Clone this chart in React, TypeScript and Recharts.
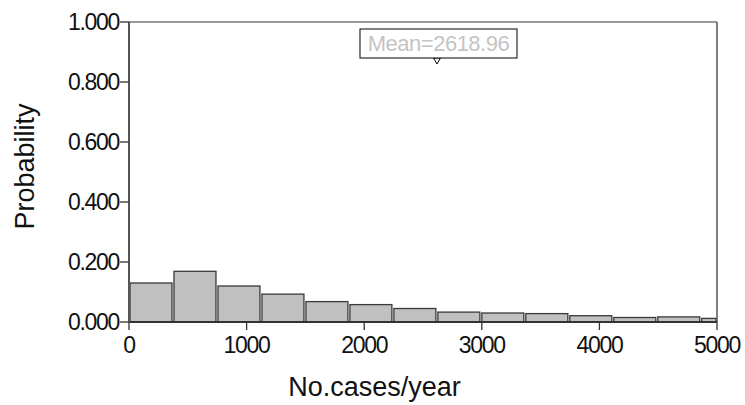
import { ComposedChart, XAxis, YAxis, Line, ReferenceArea, ReferenceLine, ReferenceDot, Label } from "recharts";

// histogram bins (No.cases/year) and their probability
const binStarts = [0, 374, 748, 1122, 1496, 1870, 2244, 2618, 2992, 3366, 3740, 4114, 4488, 4862];
const binEnds = [374, 748, 1122, 1496, 1870, 2244, 2618, 2992, 3366, 3740, 4114, 4488, 4862, 5000];
const probabilities = [0.13, 0.169, 0.12, 0.093, 0.068, 0.058, 0.045, 0.033, 0.03, 0.028, 0.021, 0.015, 0.017, 0.012];

const xTicks = [0, 1000, 2000, 3000, 4000, 5000];
const yTicks = [0, 0.2, 0.4, 0.6, 0.8, 1];
const meanValue = 2618.96;
const meanMarkerY = 0.86;

const bins = binStarts.map((start, i) => ({ start, end: binEnds[i], p: probabilities[i] }));

const FONT = "'Liberation Sans', Arial, sans-serif";

function BinRect(props: any) {
  const { x, y, width, height } = props;
  return (
    <rect
      x={x + 1}
      y={y}
      width={Math.max(width - 2, 0)}
      height={height}
      fill="#c0c0c0"
      stroke="#3a3a3a"
      strokeWidth={1.3}
    />
  );
}

function MeanMarker(props: any) {
  const { cx, cy } = props;
  return (
    <g>
      <path d={`M${cx - 3.5},${cy - 6} L${cx + 3.5},${cy - 6} L${cx},${cy} Z`} fill="#fff" stroke="#000" strokeWidth={1} />
      <rect x={cx - 77} y={cy - 35} width={157} height={29} fill="#fff" stroke="#000" strokeWidth={1} />
      <text
        x={cx + 1.5}
        y={cy - 13}
        textAnchor="middle"
        fontFamily={FONT}
        fontSize={22}
        letterSpacing={-0.5}
        fill="#c4c4c4"
      >
        Mean={meanValue.toFixed(2)}
      </text>
    </g>
  );
}

export default function App() {
  return (
    <div style={{ position: "absolute", left: 0, top: 0, width: 745, height: 405, background: "#fff" }}>
      <ComposedChart width={745} height={405} data={bins} margin={{ top: 22, right: 28, bottom: 0, left: 0 }}>
        <XAxis
          type="number"
          dataKey="start"
          domain={[0, 5000]}
          ticks={xTicks}
          allowDataOverflow
          height={83}
          tickSize={8}
          tickMargin={7}
          axisLine={{ stroke: "#333", strokeWidth: 2 }}
          tickLine={{ stroke: "#333", strokeWidth: 1.3 }}
          tick={{ fontFamily: FONT, fontSize: 23, letterSpacing: -1.3, fill: "#111" }}
        >
          <Label
            content={() => (
              <text x={374.5} y={396} textAnchor="middle" fontFamily={FONT} fontSize={27} fill="#111">
                No.cases/year
              </text>
            )}
          />
        </XAxis>
        <YAxis
          type="number"
          domain={[0, 1]}
          ticks={yTicks}
          allowDataOverflow
          width={129}
          tickSize={9}
          tickMargin={1}
          axisLine={{ stroke: "#555", strokeWidth: 2 }}
          tickLine={{ stroke: "#333", strokeWidth: 1.3 }}
          tickFormatter={(v: number) => v.toFixed(3)}
          tick={{ fontFamily: FONT, fontSize: 23, letterSpacing: -1.3, fill: "#111" }}
        >
          <Label
            content={() => (
              <text
                x={34}
                y={166.5}
                transform="rotate(-90, 34, 166.5)"
                textAnchor="middle"
                fontFamily={FONT}
                fontSize={27}
                fill="#111"
              >
                Probability
              </text>
            )}
          />
        </YAxis>
        {/* invisible series so the y axis gets registered */}
        <Line dataKey="p" stroke="none" dot={false} activeDot={false} isAnimationActive={false} />
        <ReferenceLine y={1} stroke="#777" strokeWidth={1.5} ifOverflow="visible" />
        <ReferenceLine x={5000} stroke="#555" strokeWidth={1.5} ifOverflow="visible" />
        {bins.map((b, i) => (
          <ReferenceArea
            key={i}
            x1={b.start}
            x2={b.end}
            y1={0}
            y2={b.p}
            ifOverflow="visible"
            shape={BinRect}
          />
        ))}
        <ReferenceDot x={meanValue} y={meanMarkerY} r={0} ifOverflow="visible" shape={MeanMarker} />
      </ComposedChart>
    </div>
  );
}
